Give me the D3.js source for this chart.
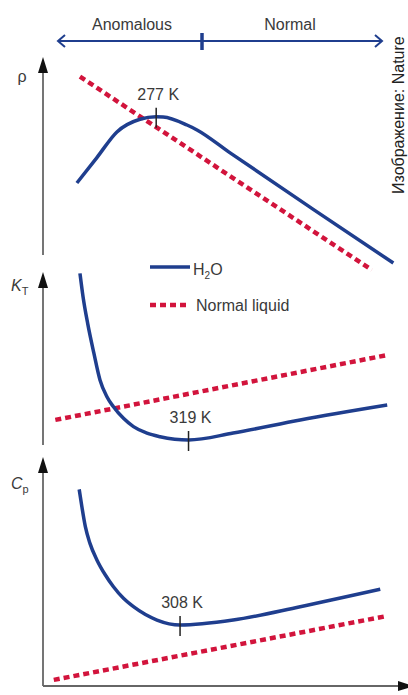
<!DOCTYPE html>
<html>
<head>
<meta charset="utf-8">
<script src="https://cdn.jsdelivr.net/npm/d3@7"></script>
<style>
  body { margin: 0; background: #fff; }
  text { font-family: "Liberation Sans", Arial, sans-serif; fill: #3a3a3a; }
</style>
</head>
<body>
<script>
const w = 408;
const h = 695;

// temperature (K) and property values (arbitrary units, 0-100)
const rhoWater = [[174, 43.5], [200, 54.9], [226, 66.4], [256, 72.1], [277, 73.2], [286, 73.1],
  [317, 69.5], [330, 67.3], [373, 57.0], [480, 31.9], [585, 7.6]];
const rhoNormal = [[178, 91.2], [557, 4.5]];
const ktWater = [[178, 99.2], [182, 85.7], [188, 70.3], [196, 53.2], [204, 37.6], [213, 27.9],
  [221.5, 22.1], [234.5, 15.4], [247.5, 10.6], [265, 6.8], [282, 4.8], [319, 2.9], [377, 6.9],
  [464, 14.5], [577, 23.1]];
const ktNormal = [[146, 14.5], [577, 52.0]];
const cpWater = [[177, 87.0], [180.5, 79.3], [185, 70.5], [191, 63.1], [200, 55.8], [211, 49.1],
  [221.5, 43.9], [234.5, 38.8], [247.5, 35.1], [278, 29.2], [308, 27.0], [377, 29.2],
  [464, 35.1], [568, 42.8]];
const cpNormal = [[144, 2.7], [577, 31.0]];
const extremaT = [277, 319, 308];
const regionLabels = ["Anomalous", "Normal"];
const legendLabels = ["H2O", "Normal liquid"];

const blue = "#1f3e8e";
const red = "#d2143c";
const axisGrey = "#666";

const svg = d3.select("body").append("svg").attr("width", w).attr("height", h);

const x = d3.scaleLinear().domain([130, 600]).range([43, 404.9]);

const panels = [
  {name: "rho", water: rhoWater, normal: rhoNormal, y: d3.scaleLinear().domain([0, 100]).range([280, 57]),
    axisBottom: 255, tip: 57},
  {name: "kt", water: ktWater, normal: ktNormal, y: d3.scaleLinear().domain([0, 100]).range([445, 272]),
    axisBottom: 445, tip: 272},
  {name: "cp", water: cpWater, normal: cpNormal, y: d3.scaleLinear().domain([0, 100]).range([686, 460]),
    axisBottom: 686, tip: 457}
];

// top region bar
const barY = 41;
const splitX = 202;
svg.append("line").attr("x1", 58).attr("x2", 382).attr("y1", barY).attr("y2", barY)
  .attr("stroke", blue).attr("stroke-width", 2);
svg.append("path").attr("d", `M65,${barY - 6} L58,${barY} L65,${barY + 6}`)
  .attr("fill", "none").attr("stroke", blue).attr("stroke-width", 2);
svg.append("path").attr("d", `M375,${barY - 6} L382,${barY} L375,${barY + 6}`)
  .attr("fill", "none").attr("stroke", blue).attr("stroke-width", 2);
svg.append("line").attr("x1", splitX).attr("x2", splitX).attr("y1", 33).attr("y2", 50)
  .attr("stroke", blue).attr("stroke-width", 3.5);
svg.selectAll(".region").data(regionLabels).enter().append("text")
  .attr("class", "region")
  .attr("x", (d, i) => i === 0 ? 132 : 290)
  .attr("y", 30)
  .attr("text-anchor", "middle")
  .attr("font-size", 16)
  .text(d => d);

// axes
panels.forEach(p => {
  svg.append("line").attr("x1", 43).attr("x2", 43).attr("y1", p.axisBottom).attr("y2", p.tip + 14)
    .attr("stroke", axisGrey).attr("stroke-width", 1.8);
  svg.append("path").attr("d", `M38,${p.tip + 16} L43,${p.tip} L48,${p.tip + 16} Z`).attr("fill", "#111");
});
svg.append("line").attr("x1", 43).attr("x2", 400).attr("y1", 686).attr("y2", 686)
  .attr("stroke", axisGrey).attr("stroke-width", 1.8);
svg.append("path").attr("d", "M398,681 L414,686 L398,691 Z").attr("fill", "#111");

// axis labels
svg.append("text").attr("x", 22).attr("y", 82).attr("text-anchor", "middle").attr("font-size", 16).text("ρ");
const kt = svg.append("text").attr("x", 11).attr("y", 291).attr("font-size", 16);
kt.append("tspan").attr("font-style", "italic").text("K");
kt.append("tspan").attr("font-size", 11).attr("dy", 4).text("T");
const cp = svg.append("text").attr("x", 11).attr("y", 489).attr("font-size", 16);
cp.append("tspan").attr("font-style", "italic").text("C");
cp.append("tspan").attr("font-size", 11).attr("dy", 4).text("p");

// curves
const line = y => d3.line().x(d => x(d[0])).y(d => y(d[1])).curve(d3.curveMonotoneX);

panels.forEach(p => {
  svg.append("path").datum(p.normal)
    .attr("d", line(p.y))
    .attr("fill", "none")
    .attr("stroke", red)
    .attr("stroke-width", 4.5)
    .attr("stroke-dasharray", "6,4");
  svg.append("path").datum(p.water)
    .attr("d", line(p.y))
    .attr("fill", "none")
    .attr("stroke", blue)
    .attr("stroke-width", 3.5)
    .attr("stroke-linejoin", "round");
});

// extrema markers
panels.forEach((p, i) => {
  const t = extremaT[i];
  const pt = p.water.find(d => d[0] === t) || p.water.reduce((a, b) => Math.abs(b[0] - t) < Math.abs(a[0] - t) ? b : a);
  const cx = x(t);
  const cy = p.y(pt[1]);
  svg.append("line").attr("x1", cx).attr("x2", cx).attr("y1", cy - 9).attr("y2", cy + 11)
    .attr("stroke", "#222").attr("stroke-width", 1.5);
  svg.append("text").attr("x", cx + 2).attr("y", cy - 17)
    .attr("text-anchor", "middle").attr("font-size", 16)
    .text(t + " K");
});

// legend
const lg = svg.append("g");
lg.append("line").attr("x1", 150).attr("x2", 190).attr("y1", 267).attr("y2", 267)
  .attr("stroke", blue).attr("stroke-width", 3.5);
const h2o = lg.append("text").attr("x", 193).attr("y", 275).attr("font-size", 16);
h2o.append("tspan").text("H");
h2o.append("tspan").attr("font-size", 10).attr("dy", 4).text("2");
h2o.append("tspan").attr("dy", -4).text("O");
lg.append("line").attr("x1", 150).attr("x2", 190).attr("y1", 305).attr("y2", 305)
  .attr("stroke", red).attr("stroke-width", 4.5).attr("stroke-dasharray", "6,4");
lg.append("text").attr("x", 196).attr("y", 311).attr("font-size", 16).text(legendLabels[1]);

// credit
svg.append("text")
  .attr("transform", "translate(404,194) rotate(-90)")
  .attr("font-size", 16)
  .style("fill", "#222")
  .text("Изображение: Nature");
</script>
</body>
</html>
